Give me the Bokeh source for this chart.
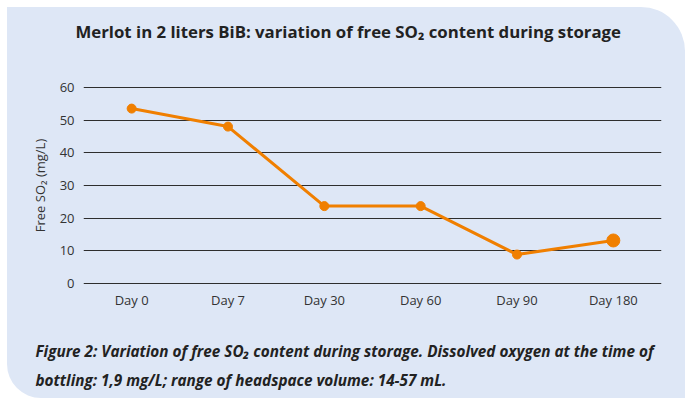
from bokeh.plotting import figure
from bokeh.models import Title, FactorRange, FixedTicker
from bokeh.embed import file_html
from bokeh.resources import INLINE

days = ["Day 0", "Day 7", "Day 30", "Day 60", "Day 90", "Day 180"]
free_so2 = [53.5, 48.0, 23.7, 23.7, 8.9, 13.2]
y_ticks = [0, 10, 20, 30, 40, 50, 60]
title_text = "Merlot in 2 liters BiB: variation of free SO₂ content during storage"
y_label = "Free SO₂ (mg/L)"
caption_lines = [
    "Figure 2: Variation of free SO₂ content during storage. Dissolved oxygen at the time of",
    "bottling: 1,9 mg/L; range of headspace volume: 14-57 mL.",
]

FONT = "Open Sans"
PANEL = "#dee7f6"
ORANGE = "#f07f00"

p = figure(x_range=FactorRange(*days), y_range=(-0.25, 60.25), width=678, height=391,
           output_backend="svg", toolbar_location=None,
           min_border_left=76, min_border_right=24, min_border_top=79, min_border_bottom=108)
p.styles = {"background-color": PANEL, "border-radius": "0 44px 0 34px",
            "margin-left": "7px", "margin-top": "7px"}
p.border_fill_color = None
p.background_fill_color = PANEL
p.outline_line_color = None

# spacer between frame and title (closest to frame)
p.add_layout(Title(text=" ", text_font_size="1px", standoff=28), "above")
p.title = Title(text=title_text, align="left", offset=-8, text_font=FONT, vertical_align="middle",
                text_font_size="16.8px", text_font_style="bold", text_color="#222222", standoff=23)

p.xgrid.grid_line_color = None
p.ygrid.grid_line_color = "#2e2e2e"
p.ygrid.grid_line_width = 1.2
p.yaxis.ticker = FixedTicker(ticks=y_ticks)
for ax in (p.xaxis[0], p.yaxis[0]):
    ax.axis_line_color = None
    ax.major_tick_line_color = None
    ax.minor_tick_line_color = None
    ax.major_tick_out = 0
    ax.major_tick_in = 0
    ax.minor_tick_out = 0
    ax.major_label_text_font = FONT
    ax.major_label_text_font_size = "13px"
    ax.major_label_text_color = "#333333"
p.yaxis.major_label_standoff = 9
p.xaxis.major_label_standoff = 6
p.yaxis.axis_label = y_label
p.yaxis.axis_label_text_font = FONT
p.yaxis.axis_label_text_font_size = "13px"
p.yaxis.axis_label_text_font_style = "normal"
p.yaxis.axis_label_text_color = "#333333"
p.yaxis.axis_label_standoff = 8

p.line(days, free_so2, line_color=ORANGE, line_width=3)
p.scatter(days[:-1], free_so2[:-1], size=9, color=ORANGE)
p.scatter(days[-1:], free_so2[-1:], size=13, color=ORANGE)

# spacer between axis and caption, then caption
p.add_layout(Title(text=" ", text_font_size="1px", standoff=18), "below")
caption = Title(text="\n".join(caption_lines), align="left", offset=-48, text_font=FONT,
                vertical_align="middle",
                text_font_size="15.3px", text_font_style="bold italic", text_color="#222222",
                text_line_height=1.47, standoff=15)
p.add_layout(caption, "below")

open("out.html", "w").write(file_html(p, INLINE))
